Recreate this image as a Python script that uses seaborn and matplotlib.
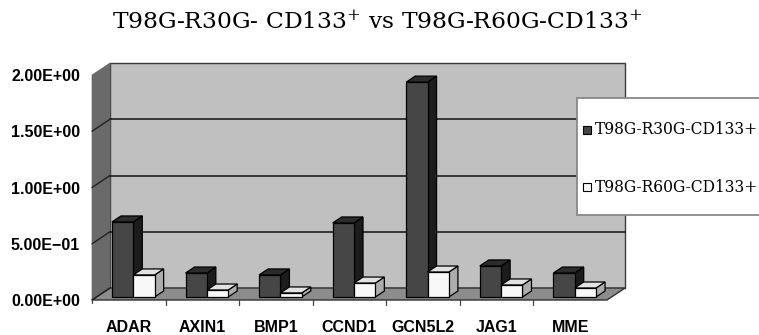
import numpy as np
import pandas as pd
import matplotlib
matplotlib.use("Agg")
import matplotlib.pyplot as plt
import seaborn as sns
from matplotlib.patches import Polygon, Rectangle
from matplotlib.lines import Line2D

# ---------------- data ----------------
genes = ["ADAR", "AXIN1", "BMP1", "CCND1", "GCN5L2", "JAG1", "MME"]
series = ["T98G-R30G-CD133+", "T98G-R60G-CD133+"]
r30 = [0.667, 0.213, 0.196, 0.658, 1.91, 0.276, 0.213]
r60 = [0.196, 0.062, 0.036, 0.124, 0.222, 0.107, 0.080]
yticks = [0.0, 0.5, 1.0, 1.5, 2.0]
ytick_labels = ["0.00E+00", "5.00E\u221201", "1.00E+00", "1.50E+00", "2.00E+00"]
title = "T98G-R30G- CD133$^{+}$ vs T98G-R60G-CD133$^{+}$"

df = pd.DataFrame({
    "gene": genes * 2,
    "series": [series[0]] * len(genes) + [series[1]] * len(genes),
    "value": r30 + r60,
})

sns.set_theme(style="white")
plt.rcParams["font.family"] = ["DejaVu Sans"]
plt.rcParams["mathtext.fontset"] = "dejavuserif"

W, H = 759, 335
fig = plt.figure(figsize=(W / 100, H / 100), dpi=100)
fig.patch.set_facecolor("white")
ax = fig.add_axes([92 / W, 35 / H, 515 / W, 225 / H])

front_cols = ["#464646", "#f8f8f8"]
side_cols = {0: "#1c1c1c", 1: "#adadad"}
top_cols = {0: "#2c2c2c", 1: "#e2e2e2"}

sns.barplot(data=df, x="gene", y="value", hue="series", palette=front_cols,
            width=0.58, saturation=1, edgecolor="black", linewidth=0.9,
            ax=ax, legend=False)
bars = [p for p in ax.patches if isinstance(p, Rectangle) and p.get_height() > 0]
bars = sorted(bars, key=lambda p: p.get_x())

n = len(genes)
ax.set_xlim(-0.5, n - 0.5)
ax.set_ylim(0, 2.0)
ax.patch.set_visible(False)
for s in ax.spines.values():
    s.set_visible(False)

fig.canvas.draw()
bb = ax.get_window_extent()
ux = n / bb.width
uy = 2.0 / bb.height
DX, DY = 18, 12
ddx, ddy = DX * ux, DY * uy

x0, x1 = -0.5, n - 0.5
# back wall
ax.add_patch(Rectangle((x0 + ddx, ddy), x1 - x0, 2.0, facecolor="#c0c0c0",
                       edgecolor="#3a3a3a", lw=1.0, zorder=0.5, clip_on=False))
# left wall
ax.add_patch(Polygon([(x0, 0), (x0, 2.0), (x0 + ddx, 2.0 + ddy), (x0 + ddx, ddy)],
                     closed=True, facecolor="#6a6a6a", edgecolor="#6a6a6a", lw=0.5,
                     zorder=0.6, clip_on=False))
# floor
ax.add_patch(Polygon([(x0, 0), (x1, 0), (x1 + ddx, ddy), (x0 + ddx, ddy)],
                     closed=True, facecolor="#8c8c8c", edgecolor="#303030", lw=1.0,
                     zorder=0.7, clip_on=False))
# gridlines (back wall + left wall)
for yv in yticks[1:-1]:
    ax.add_line(Line2D([x0 + ddx, x1 + ddx], [yv + ddy, yv + ddy], color="#111111",
                       lw=1.1, zorder=0.8, clip_on=False))
for yv in yticks[:-1]:
    ax.add_line(Line2D([x0, x0 + ddx], [yv, yv + ddy], color="#222222",
                       lw=1.0, zorder=0.8, clip_on=False))
# tick marks on floor front edge
for k in range(1, n):
    ax.add_line(Line2D([x0 + k, x0 + k], [0, -5 * uy], color="#444444",
                       lw=0.9, zorder=0.8, clip_on=False))
ax.add_line(Line2D([x0, x0], [0, -3 * uy], color="#444444", lw=0.9, zorder=0.8, clip_on=False))

# 3D bars
f = 0.25
bdx, bdy = 0.5 * ddx, 0.5 * ddy
for i, p in enumerate(bars):
    x, w, h = p.get_x(), p.get_width(), p.get_height()
    fc = p.get_facecolor()
    kind = 0 if fc[0] < 0.5 else 1
    xs = x + f * ddx
    ys = f * ddy
    p.set_x(xs)
    p.set_y(ys)
    z = 2 + i * 0.01
    p.set_zorder(z)
    p.set_clip_on(False)
    side = Polygon([(xs + w, ys), (xs + w, ys + h), (xs + w + bdx, ys + h + bdy), (xs + w + bdx, ys + bdy)],
                   closed=True, facecolor=side_cols[kind], edgecolor="black", lw=0.9,
                   zorder=z - 0.001, clip_on=False)
    top = Polygon([(xs, ys + h), (xs + w, ys + h), (xs + w + bdx, ys + h + bdy), (xs + bdx, ys + h + bdy)],
                  closed=True, facecolor=top_cols[kind], edgecolor="black", lw=0.9,
                  zorder=z - 0.001, clip_on=False)
    ax.add_patch(side)
    ax.add_patch(top)

# ticks
ax.set_yticks(yticks)
ax.set_yticklabels(ytick_labels)
ax.set_xticks(range(n))
ax.set_xticklabels(genes)
ax.set_xlabel("")
ax.set_ylabel("")
ax.tick_params(axis="y", length=0, pad=8.5)
ax.tick_params(axis="x", length=0, pad=14.5)
for lab in ax.get_yticklabels() + ax.get_xticklabels():
    lab.set_fontfamily("Liberation Sans")
    lab.set_fontweight("heavy")
    lab.set_fontsize(11.5)
    lab.set_color("black")

# title
fig.text(377 / W, 1 - 22 / H, title, ha="center", va="center",
         family="DejaVu Serif", fontsize=16.8, color="black")

# legend (manual box, partially cut by the right edge)
lx0, lx1, ly_top, ly_bot = 577, 785, 98, 215
fig.patches.append(Rectangle((lx0 / W, 1 - ly_bot / H), (lx1 - lx0) / W, (ly_bot - ly_top) / H,
                             transform=fig.transFigure, facecolor="white",
                             edgecolor="#888888", lw=1.3, zorder=10))
for name, col, yc in zip(series, front_cols, [130, 187]):
    fig.patches.append(Rectangle((583 / W, 1 - (yc + 4) / H), 8 / W, 8 / H,
                                 transform=fig.transFigure, facecolor=col,
                                 edgecolor="black", lw=0.8, zorder=11))
    fig.text(595 / W, 1 - yc / H, name, ha="left", va="center",
             family="DejaVu Serif", fontsize=11.2, color="black", zorder=12)

fig.savefig("out.png", dpi=100)
